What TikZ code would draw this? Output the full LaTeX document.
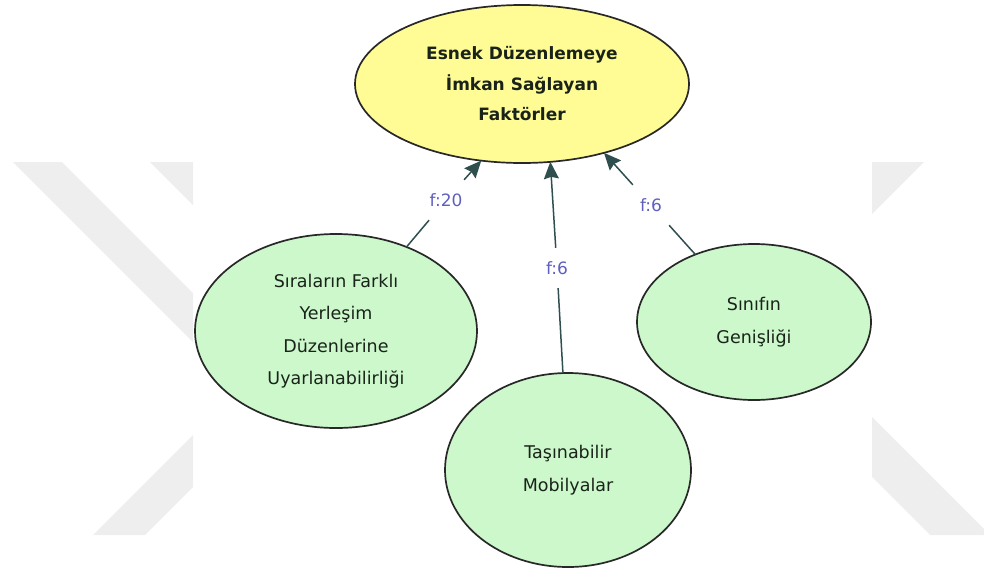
\documentclass[tikz,border=0pt]{standalone}
\usepackage{fontspec}
\setmainfont{DejaVu Sans}
\usetikzlibrary{shapes.geometric,arrows.meta}
\definecolor{wm}{RGB}{238,238,238}
\definecolor{topfill}{RGB}{255,252,150}
\definecolor{leaffill}{RGB}{204,248,204}
\definecolor{edgecol}{RGB}{40,40,40}
\definecolor{txtcol}{RGB}{25,35,25}
\definecolor{linkcol}{RGB}{47,79,79}
\definecolor{lblcol}{RGB}{95,95,190}
\tikzset{
 mainnode/.style={ellipse, draw=edgecol, line width=1.7pt, fill=topfill, inner sep=0pt, outer sep=0pt, align=center, text=txtcol, font=\fontsize{17}{30.5}\selectfont\bfseries},
 leafnode/.style={ellipse, draw=edgecol, line width=1.7pt, fill=leaffill, inner sep=0pt, outer sep=0pt, align=center, text=txtcol, font=\fontsize{17.5}{32.5}\selectfont},
 flabel/.style={text=lblcol, font=\fontsize{17}{18}\selectfont, minimum width=36pt, minimum height=40pt, inner sep=0pt},
 link/.style={draw=linkcol, line width=1.5pt},
 linkarrow/.style={link, -{Stealth[length=17pt,width=15pt,inset=2pt]}},
 wmark/.style={fill=wm, draw=none}
}
\begin{document}
\begin{tikzpicture}[x=1pt,y=-1pt]
\useasboundingbox (0,0) rectangle (984,576);
% watermark
\fill[wmark] (13,162) -- (62,162) -- (193,293) -- (193,342) -- cycle;
\fill[wmark] (150,162) -- (193,162) -- (193,205) -- cycle;
\fill[wmark] (93,535) -- (145,535) -- (193,487) -- (193,435) -- cycle;
\fill[wmark] (872,162) -- (924,162) -- (872,214) -- cycle;
\fill[wmark] (872,417) -- (984,529) -- (984,535) -- (930,535) -- (872,477) -- cycle;
% nodes
\node[mainnode, minimum width=334pt, minimum height=158pt] (top) at (522,84)
  {Esnek Düzenlemeye\\İmkan Sağlayan\\Faktörler};
\node[leafnode, minimum width=282pt, minimum height=194pt] (c1) at (336,331)
  {Sıraların Farklı\\Yerleşim\\Düzenlerine\\Uyarlanabilirliği};
\node[leafnode, minimum width=246pt, minimum height=194pt] (c2) at (568,470)
  {Taşınabilir\\Mobilyalar};
\node[leafnode, minimum width=234pt, minimum height=156pt] (c3) at (754,322)
  {Sınıfın\\Genişliği};
% labels
\node[flabel] (l1) at (446,200) {f:20};
\node[flabel] (l2) at (557,268) {f:6};
\node[flabel] (l3) at (651,205) {f:6};
% connectors
\draw[link] (c1.50) -- (l1);
\draw[linkarrow] (l1) -- (top.-118);
\draw[link] (c2.93) -- (l2);
\draw[linkarrow] (l2) -- (top.-70);
\draw[link] (c3.131) -- (l3);
\draw[linkarrow] (l3) -- (top.-40);
\end{tikzpicture}
\end{document}
